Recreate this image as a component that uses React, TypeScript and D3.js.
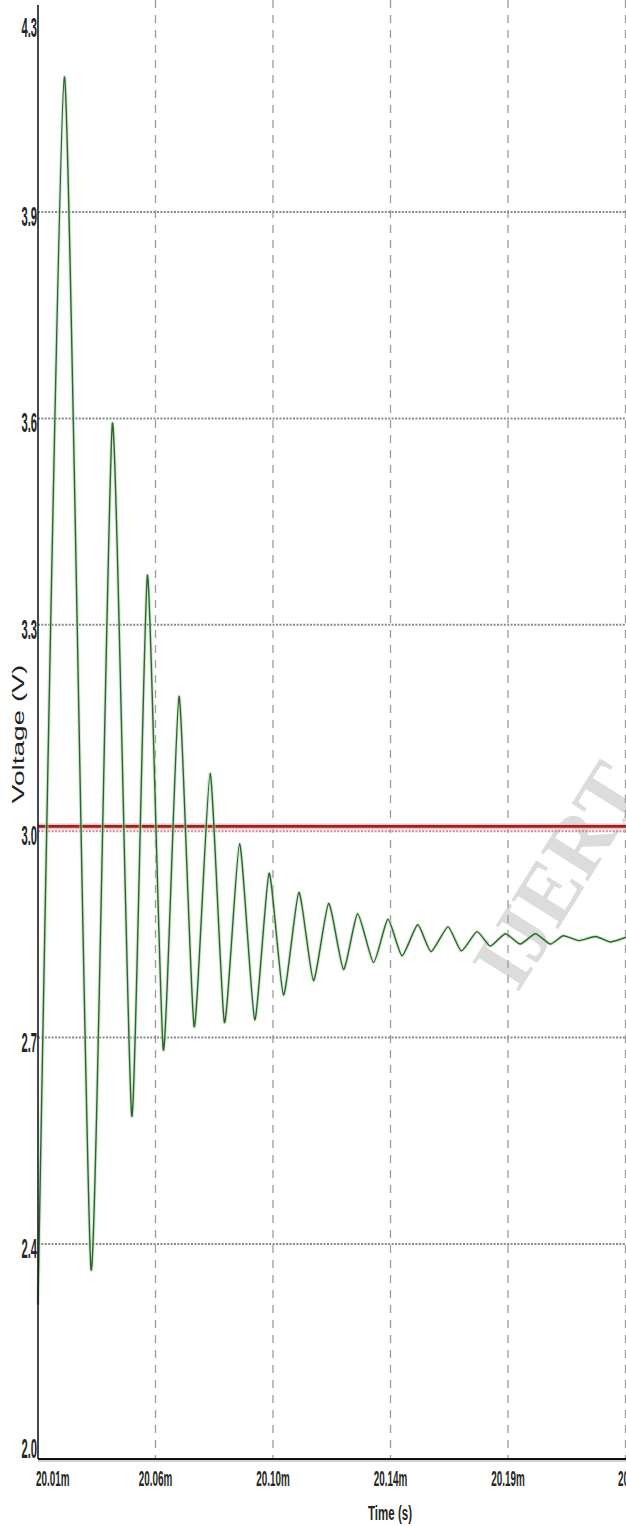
import React from "react";
import * as d3 from "d3";

// Time in ms (axis shows "m" suffix), voltage in V
const timeMs = [
  20.01, 20.0201, 20.0303, 20.0385, 20.0459, 20.0519, 20.058, 20.064, 20.0698, 20.0759,
  20.0814, 20.0872, 20.093, 20.0985, 20.104, 20.1099, 20.1155, 20.1213, 20.127, 20.1324,
  20.1385, 20.144, 20.1494, 20.1554, 20.1605, 20.167, 20.1721, 20.1781, 20.1832, 20.189,
  20.1947, 20.2005, 20.2062, 20.2112, 20.217, 20.2235, 20.2292, 20.2354,
];
const voltage = [
  2.287, 4.161, 2.353, 3.593, 2.586, 3.372, 2.682, 3.196, 2.716, 3.084,
  2.722, 2.982, 2.726, 2.939, 2.762, 2.911, 2.783, 2.895, 2.799, 2.88,
  2.809, 2.872, 2.819, 2.864, 2.825, 2.861, 2.826, 2.854, 2.833, 2.851,
  2.836, 2.851, 2.836, 2.848, 2.841, 2.847, 2.839, 2.846,
];
const referenceVoltage = 3.007;

const xTickValues = [20.01, 20.055, 20.1, 20.145, 20.19, 20.235];
const xTickLabels = ["20.01m", "20.06m", "20.10m", "20.14m", "20.19m", "20.23m"];
const yTickValues = [2.0, 2.4, 2.7, 3.0, 3.3, 3.6, 3.9, 4.3];
const yTickLabels = ["2.0", "2.4", "2.7", "3.0", "3.3", "3.6", "3.9", "4.3"];
const yGridValues = [2.4, 2.7, 3.0, 3.3, 3.6, 3.9];

const W = 626;
const H = 1526;
const LEFT = 38;
const BOTTOM = 1459;
const TOP = 5;

const FONT = "'Liberation Sans', Arial, sans-serif";

function Squeezed(props: {
  x: number;
  y: number;
  sx: number;
  size: number;
  anchor?: "start" | "middle" | "end";
  weight?: string;
  children: React.ReactNode;
}) {
  const { x, y, sx, size, anchor = "middle", weight = "bold", children } = props;
  return (
    <text
      transform={`translate(${x},${y}) scale(${sx},1)`}
      textAnchor={anchor}
      fontFamily={FONT}
      fontSize={size}
      fontWeight={weight}
      fill="#262626"
    >
      {children}
    </text>
  );
}

export default function App() {
  const x = d3.scaleLinear().domain([20.01, 20.235]).range([LEFT, 625.5]);
  const y = d3
    .scaleLinear()
    .domain([2.0, 2.4, 3.9, 4.3])
    .range([BOTTOM, 1244, 212, TOP]);

  const pts = timeMs.map((t, i) => [t, voltage[i]] as [number, number]);
  const line = d3
    .line<[number, number]>()
    .x((d) => x(d[0]))
    .y((d) => y(d[1]))
    .curve(d3.curveCardinal.tension(0.45));
  const pathD = line(pts) || "";

  const yMin = yTickValues[0];
  const yMax = yTickValues[yTickValues.length - 1];

  return (
    <svg
      width={W}
      height={H}
      style={{ position: "absolute", left: 0, top: 0, background: "#fff" }}
    >
      <rect x={0} y={0} width={W} height={H} fill="#fff" />

      {/* watermark */}
      <text
        x={0}
        y={0}
        transform="translate(566,880) rotate(-58)"
        textAnchor="middle"
        fontFamily="'Liberation Serif', 'DejaVu Serif', serif"
        fontWeight="bold"
        fontSize={84}
        fill="#dcdcdc"
        dominantBaseline="middle"
      >
        IJERT
      </text>

      {/* vertical dashed grid */}
      {xTickValues.slice(1).map((t) => (
        <line
          key={"vx" + t}
          x1={x(t)}
          x2={x(t)}
          y1={0}
          y2={BOTTOM}
          stroke="#9c9c9c"
          strokeWidth={1.3}
          strokeDasharray="8,7"
        />
      ))}

      {/* horizontal dotted grid */}
      {yGridValues.map((v) => (
        <line
          key={"hy" + v}
          x1={LEFT}
          x2={W}
          y1={y(v)}
          y2={y(v)}
          stroke={v === 3.0 ? "#d98888" : "#8a8a8a"}
          strokeWidth={2}
          strokeDasharray="2,1.4"
        />
      ))}

      {/* reference line */}
      <line
        x1={LEFT}
        x2={W}
        y1={y(referenceVoltage)}
        y2={y(referenceVoltage)}
        stroke="#f2c0c0"
        strokeWidth={6}
      />
      <line
        x1={LEFT}
        x2={W}
        y1={y(referenceVoltage)}
        y2={y(referenceVoltage)}
        stroke="#922626"
        strokeWidth={2.6}
      />

      {/* waveform */}
      <path d={pathD} fill="none" stroke="#b9dcb9" strokeWidth={3.5} strokeOpacity={0.6} />
      <path d={pathD} fill="none" stroke="#2b662b" strokeWidth={1.4} />

      {/* axes */}
      <line x1={LEFT} x2={LEFT} y1={TOP} y2={BOTTOM} stroke="#1a1a1a" strokeWidth={1.6} />
      <line x1={LEFT} x2={W} y1={BOTTOM} y2={BOTTOM} stroke="#111" strokeWidth={2.2} />
      <line x1={LEFT} x2={W} y1={BOTTOM + 2} y2={BOTTOM + 2} stroke="#a0a0a0" strokeWidth={1} />

      {/* y tick labels */}
      {yTickValues.map((v, i) => {
        let by = y(v) + 14;
        if (v === yMax) by = y(v) + 32;
        if (v === yMin) by = y(v) - 1;
        return (
          <Squeezed key={"yl" + v} x={37} y={by} sx={0.4} size={28} anchor="end">
            {yTickLabels[i]}
          </Squeezed>
        );
      })}

      {/* x tick labels */}
      {xTickValues.map((t, i) => {
        const first = i === 0;
        const last = i === xTickValues.length - 1;
        const px = first ? 36 : last ? 618 : x(t);
        return (
          <Squeezed
            key={"xl" + t}
            x={px}
            y={1486}
            sx={0.45}
            size={22}
            anchor={first || last ? "start" : "middle"}
          >
            {xTickLabels[i]}
          </Squeezed>
        );
      })}

      {/* axis titles */}
      <Squeezed x={390} y={1520} sx={0.55} size={21}>
        Time (s)
      </Squeezed>
      <text
        transform="translate(23.5,734) rotate(-90) scale(1.75,1)"
        textAnchor="middle"
        fontFamily={FONT}
        fontSize={16}
        fill="#1e1e1e"
      >
        Voltage (V)
      </text>
    </svg>
  );
}
